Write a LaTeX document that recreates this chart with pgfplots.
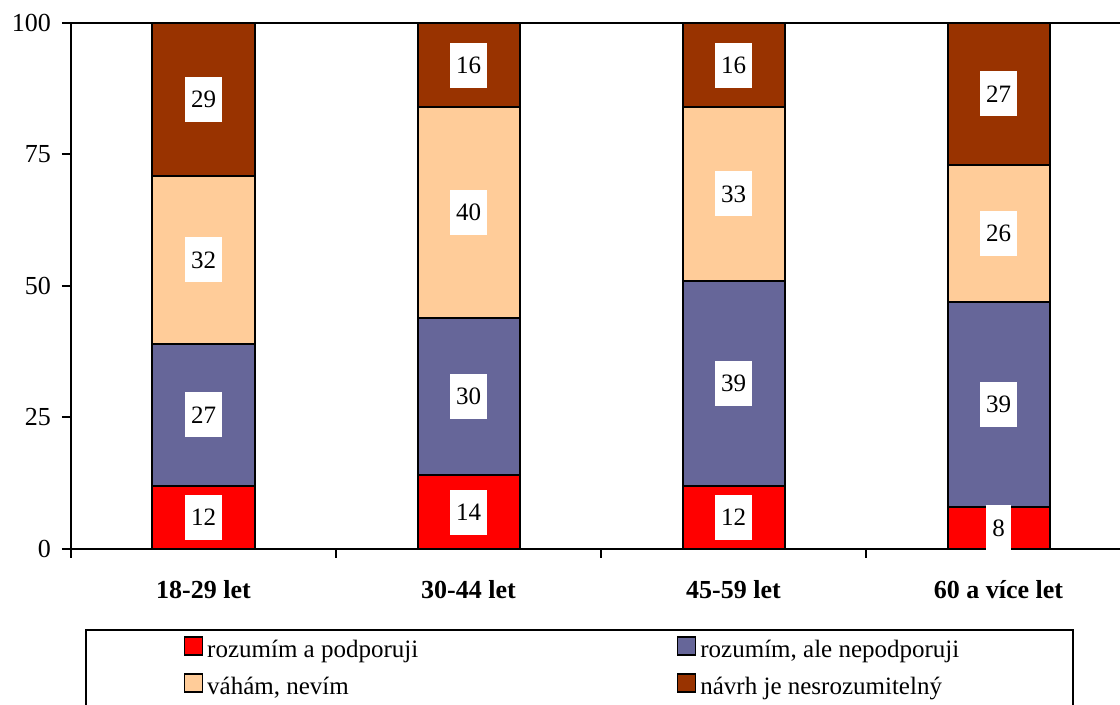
\documentclass[border=0pt]{standalone}
\usepackage{pgfplots}
\pgfplotsset{compat=1.18}
\usepackage{fontspec}
\setmainfont{Liberation Serif}

\definecolor{cRed}{HTML}{FF0000}
\definecolor{cBlue}{HTML}{666699}
\definecolor{cPeach}{HTML}{FFCC99}
\definecolor{cBrown}{HTML}{993300}

\newcommand{\chartfont}{\fontsize{12.5}{15}\selectfont}

\begin{document}
\begin{tikzpicture}
\pgfplotsset{
  frame/.style={
    scale only axis, width=530pt, height=263pt,
    at={(0,0)}, anchor=south west,
    xmin=-0.5, xmax=3.5, ymin=0, ymax=100,
  }
}
\begin{axis}[
  frame,
  ybar stacked,
  bar width=51pt,
  axis line style={line width=1pt},
  tick style={line width=1pt, black},
  tick align=outside,
  tick pos=left,
  major tick length=4.5pt,
  ytick={0,25,50,75,100},
  yticklabel style={font=\fontsize{13}{15}\selectfont, xshift=-2pt},
  xtick={-0.5,0.5,1.5,2.5,3.5},
  xticklabels={},
  extra x ticks={0,1,2,3},
  extra x tick labels={18-29 let,30-44 let,45-59 let,60 a více let},
  extra x tick style={major tick length=0pt,
    xticklabel style={font=\fontsize{13}{15}\selectfont\bfseries, yshift=-12pt}},
  /pgf/number format/assume math mode=true,
  legend columns=2,
  legend style={
    at={(0.0132,-0.1521)}, anchor=north west,
    draw=black, line width=1pt,
    inner xsep=49pt, inner ysep=1.75pt,
    font=\chartfont,
    nodes={inner xsep=2pt, inner ysep=3.25pt, text height=9pt, text depth=3pt},
    /tikz/every even column/.append style={column sep=97.5pt},
  },
  legend cell align=left,
  legend image code/.code={
    \draw[#1, line width=0.6pt, draw=black] (0.5pt,-1.5pt) rectangle (9.5pt,7.5pt);
  },
]
\addplot[fill=cRed, draw=black, line width=1pt] coordinates {(0,12) (1,14) (2,12) (3,8)};
\addplot[fill=cBlue, draw=black, line width=1pt] coordinates {(0,27) (1,30) (2,39) (3,39)};
\addplot[fill=cPeach, draw=black, line width=1pt] coordinates {(0,32) (1,40) (2,33) (3,26)};
\addplot[fill=cBrown, draw=black, line width=1pt] coordinates {(0,29) (1,16) (2,16) (3,27)};
\legend{\makebox[135.5pt][l]{rozumím a podporuji},
        \makebox[135.5pt][l]{rozumím, ale nepodporuji},
        \makebox[135.5pt][l]{váhám, nevím},
        \makebox[135.5pt][l]{návrh je nesrozumitelný}}
\end{axis}

% value labels centred in each segment
\begin{axis}[frame, hide axis, clip=false]
\addplot[draw=none, mark=none,
  nodes near coords, point meta=explicit symbolic,
  nodes near coords style={anchor=center, fill=white, inner xsep=3pt,
    inner ysep=7pt, text height=8.5pt, text depth=0pt, font=\chartfont}]
coordinates {
  (0,6)[12] (0,25.5)[27] (0,55)[32] (0,85.5)[29]
  (1,7)[14] (1,29)[30] (1,64)[40] (1,92)[16]
  (2,6)[12] (2,31.5)[39] (2,67.5)[33] (2,92)[16]
  (3,4)[8] (3,27.5)[39] (3,60)[26] (3,86.5)[27]
};
\end{axis}

\pgfresetboundingbox
\path[use as bounding box] (-35.5pt,-78pt) rectangle (524.5pt,274.5pt);
\end{tikzpicture}
\end{document}
